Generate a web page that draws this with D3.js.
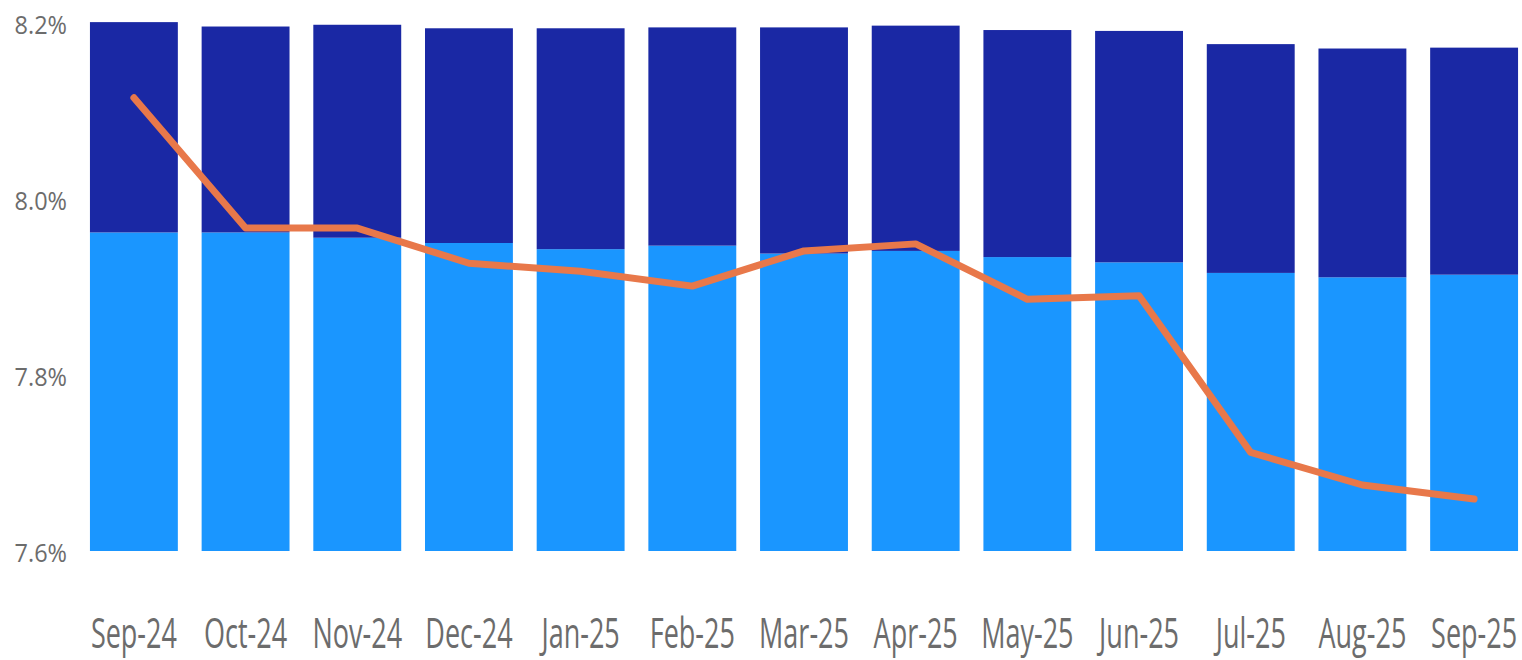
<!DOCTYPE html>
<html>
<head>
<meta charset="utf-8">
<script src="https://cdn.jsdelivr.net/npm/d3@7"></script>
<style>
  html, body { margin: 0; padding: 0; background: #ffffff; }
  svg { display: block; }
  .axis text { font-family: "Open Sans", "Noto Sans", sans-serif; fill: #6c6c6c; }
</style>
</head>
<body>
<svg id="chart" width="1522" height="660"></svg>
<script>
// Month categories
const months = ["Sep-24","Oct-24","Nov-24","Dec-24","Jan-25","Feb-25","Mar-25","Apr-25","May-25","Jun-25","Jul-25","Aug-25","Sep-25"];
// Lower (light blue) segment, %
const lowerSeg = [7.962, 7.962, 7.956, 7.950, 7.943, 7.947, 7.938, 7.941, 7.934, 7.928, 7.916, 7.911, 7.914];
// Upper (dark blue) segment, stacked on top, %
const upperSeg = [0.239, 0.234, 0.242, 0.244, 0.251, 0.248, 0.257, 0.256, 0.258, 0.263, 0.260, 0.260, 0.258];
// Line series, %
const lineVals = [8.115, 7.967, 7.967, 7.927, 7.918, 7.901, 7.941, 7.949, 7.886, 7.890, 7.712, 7.675, 7.659];
// Axis ticks
const yTicks = [7.6, 7.8, 8.0, 8.2];

const svg = d3.select("#chart");

const x = d3.scaleBand()
  .domain(months)
  .range([78, 1530])
  .paddingInner(0.213)
  .paddingOuter(0.107);

const y = d3.scaleLinear()
  .domain([7.6, 8.2])
  .range([551, 23]);

const rows = months.map((m, i) => ({ month: m, lower: lowerSeg[i], upper: upperSeg[i] }));
const stacked = d3.stack().keys(["lower", "upper"])(rows);
const colors = { lower: "#1a96ff", upper: "#1a28a4" };

svg.append("g")
  .selectAll("g")
  .data(stacked)
  .join("g")
  .attr("fill", d => colors[d.key])
  .selectAll("rect")
  .data(d => d)
  .join("rect")
  .attr("x", d => x(d.data.month))
  .attr("width", x.bandwidth())
  .attr("y", d => y(d[1]))
  .attr("height", d => y(Math.max(d[0], 7.6)) - y(d[1]));

// Line
const line = d3.line()
  .x((d, i) => x(months[i]) + x.bandwidth() / 2)
  .y(d => y(d));

svg.append("path")
  .datum(lineVals)
  .attr("fill", "none")
  .attr("stroke", "#e8784a")
  .attr("stroke-width", 7)
  .attr("stroke-linejoin", "round")
  .attr("stroke-linecap", "round")
  .attr("d", line);

// Y axis
const yAxis = svg.append("g")
  .attr("class", "axis")
  .attr("transform", "translate(90,0)")
  .call(d3.axisLeft(y).tickValues(yTicks).tickSize(0).tickPadding(23).tickFormat(d => d3.format(".1f")(d) + "%"));
yAxis.select(".domain").remove();
yAxis.selectAll("text")
  .attr("font-size", 23.5)
  .attr("y", null)
  .attr("dy", null)
  .attr("transform", "translate(0,10) scale(1,1.1)");

// X axis
const xAxis = svg.append("g")
  .attr("class", "axis")
  .attr("transform", "translate(0,551)")
  .call(d3.axisBottom(x).tickSize(0));
xAxis.select(".domain").remove();
xAxis.selectAll("text")
  .attr("font-size", 27)
  .attr("y", null)
  .attr("dy", null)
  .attr("transform", "translate(0,97) scale(1,1.55)");
</script>
</body>
</html>
